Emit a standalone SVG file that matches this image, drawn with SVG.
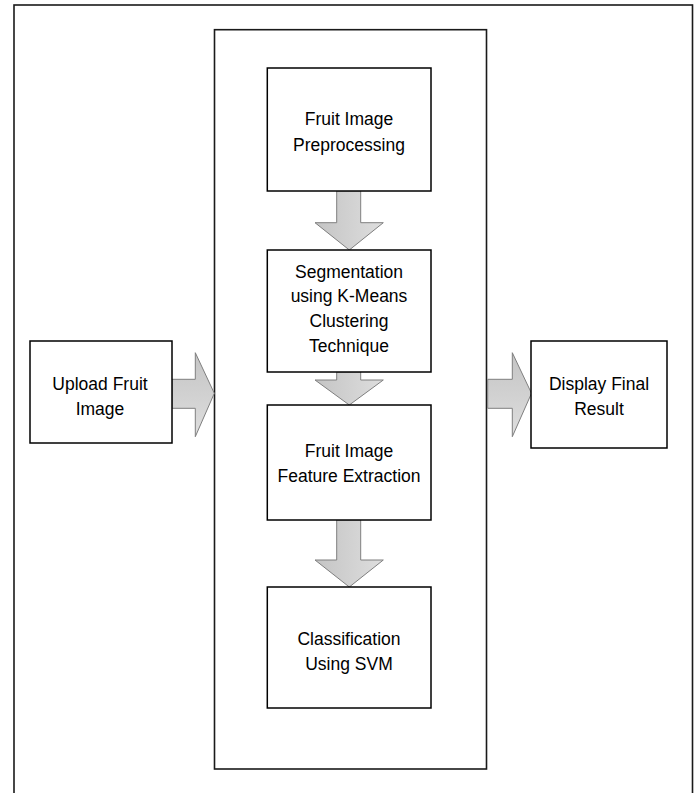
<svg xmlns="http://www.w3.org/2000/svg" width="697" height="793" viewBox="0 0 697 793">
<style>
.box{fill:#fff;stroke:#000;stroke-width:1.5}
.frame{fill:none;stroke:#1a1a1a;stroke-width:1.6}
.arr{fill:url(#g);stroke:#7f7f7f;stroke-width:1}
.arrv{fill:url(#gv);stroke:#7f7f7f;stroke-width:1}
text{font-family:"Liberation Sans",Arial,sans-serif;font-size:17.5px;fill:#000;text-anchor:middle}
</style>
<defs>
<linearGradient id="g" x1="0" y1="0" x2="0" y2="1"><stop offset="0" stop-color="#c4c4c4"/><stop offset="1" stop-color="#dedede"/></linearGradient>
<linearGradient id="gv" x1="0" y1="0" x2="1" y2="0"><stop offset="0" stop-color="#c4c4c4"/><stop offset="1" stop-color="#dedede"/></linearGradient>
</defs>
<rect width="697" height="793" fill="#fff"/>
<g id="outer-frame"><rect class="frame" x="14" y="5" width="678.5" height="800"/></g>
<g id="inner-frame"><rect class="frame" x="214.5" y="29.7" width="272" height="739.3"/></g>
<g id="connectors">
<path class="arr" d="M172,379.3 H195.3 V352.7 L214.3,393.3 L195.3,436.7 V408.3 H172 Z"/>
<path class="arr" d="M487.7,379.3 H512.3 V352.7 L531.5,393.3 L512.3,436.7 V408.3 H487.7 Z"/>
<path class="arrv" d="M336.7,191 V222.7 H315 L349.3,250 L383.3,222.7 H360.7 V191 Z"/>
<path class="arrv" d="M336.7,372 V380 H315 L349.3,405 L383.3,380 H360.7 V372 Z"/>
<path class="arrv" d="M336.7,520 V560 H315 L349.3,587 L383.3,560 H360.7 V520 Z"/>
</g>
<g id="upload"><rect class="box" x="30" y="341" width="142" height="102"/><text x="100" y="390">Upload Fruit</text><text x="100" y="415">Image</text></g>
<g id="display"><rect class="box" x="531" y="341" width="136" height="107"/><text x="599" y="390">Display Final</text><text x="599" y="415">Result</text></g>
<g id="preprocessing"><rect class="box" x="267.3" y="68" width="163.7" height="123"/><text x="349" y="125">Fruit Image</text><text x="349" y="151">Preprocessing</text></g>
<g id="segmentation"><rect class="box" x="267.3" y="250" width="163.7" height="122"/><text x="349" y="278">Segmentation</text><text x="349" y="302">using K-Means</text><text x="349" y="327">Clustering</text><text x="349" y="352">Technique</text></g>
<g id="feature"><rect class="box" x="267.3" y="405" width="163.7" height="115"/><text x="349" y="457">Fruit Image</text><text x="349" y="482">Feature Extraction</text></g>
<g id="classification"><rect class="box" x="267.3" y="587" width="163.7" height="121"/><text x="349" y="645">Classification</text><text x="349" y="670">Using SVM</text></g>
</svg>
